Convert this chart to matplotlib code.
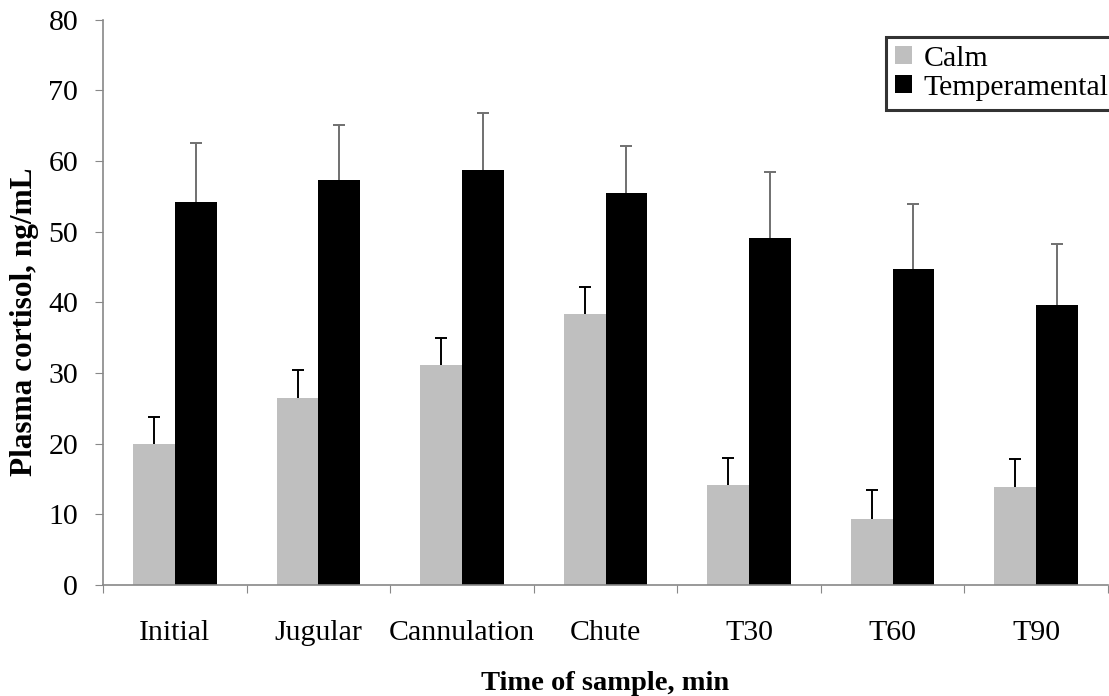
import numpy as np
import matplotlib.pyplot as plt

categories = ["Initial", "Jugular", "Cannulation", "Chute", "T30", "T60", "T90"]
calm = [19.9, 26.5, 31.2, 38.3, 14.1, 9.4, 13.9]
calm_err = [3.9, 3.9, 3.8, 3.9, 3.9, 4.1, 3.9]
temper = [54.2, 57.3, 58.8, 55.5, 49.1, 44.7, 39.6]
temper_err = [8.4, 7.8, 8.0, 6.7, 9.4, 9.3, 8.6]

plt.rcParams['font.family'] = ['Liberation Serif', 'DejaVu Serif']

fig = plt.figure(figsize=(11.09, 6.96), dpi=100)
ax = fig.add_axes([0.093, 0.1595, 0.906, 0.812])

x = np.arange(len(categories)) + 0.5
w = 0.29
b1 = ax.bar(x - w / 2, calm, w, color="#bfbfbf", label="Calm",
            yerr=[np.zeros(len(calm)), calm_err],
            error_kw=dict(ecolor="black", capsize=4.6, elinewidth=1.4, capthick=1.4))
b2 = ax.bar(x + w / 2, temper, w, color="black", label="Temperamental",
            yerr=[np.zeros(len(temper)), temper_err],
            error_kw=dict(ecolor="#707070", capsize=4.6, elinewidth=1.4, capthick=1.4))
# only the upper caps are shown
for b in (b1, b2):
    caps = b.errorbar.lines[1]
    caps[0].set_visible(False)

ax.set_xlim(0, 7)
ax.set_ylim(0, 80)
ax.set_yticks(range(0, 81, 10))
ax.set_xticks(range(0, 8))
ax.set_xticklabels([])
ax.set_xticks(x, minor=True)
ax.set_xticklabels(categories, minor=True)
ax.tick_params(axis="x", which="minor", length=0, pad=25.5, labelsize=21.5)
ax.tick_params(axis="x", which="major", length=6, color="#888888", direction="out")
ax.tick_params(axis="y", length=6, color="#888888", labelsize=21.5, pad=12)

for s in ["top", "right"]:
    ax.spines[s].set_visible(False)
for s in ["left", "bottom"]:
    ax.spines[s].set_color("#888888")
    ax.spines[s].set_linewidth(1.2)

ax.set_xlabel("Time of sample, min", fontsize=20.5, fontweight="bold", labelpad=18)
ax.set_ylabel("Plasma cortisol, ng/mL", fontsize=22.5, fontweight="bold")
ax.yaxis.set_label_coords(-0.064, 0.465)

leg = ax.legend(loc="upper right", bbox_to_anchor=(1.0095, 0.97), fontsize=21.5, frameon=True,
                fancybox=False, handlelength=0.55, handleheight=0.55, handletextpad=0.4,
                borderpad=0.3, labelspacing=0.1, borderaxespad=0)
leg.get_frame().set_edgecolor("black")
leg.get_frame().set_linewidth(2.2)

fig.savefig("out.png", dpi=100)
